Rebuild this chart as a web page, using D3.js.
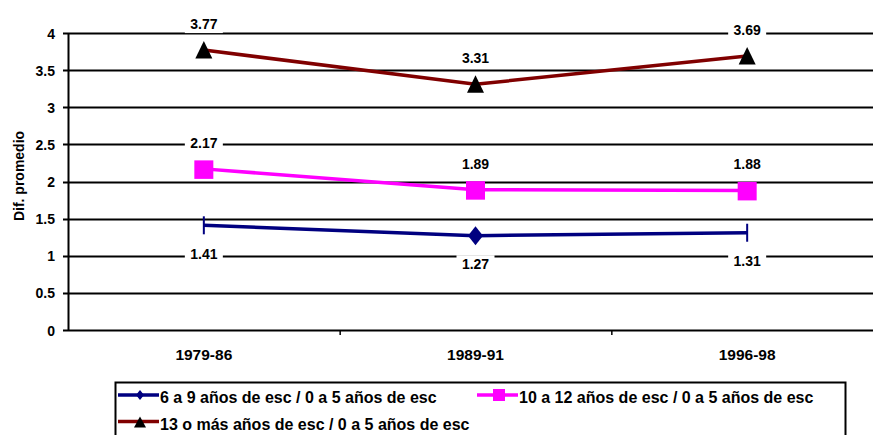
<!DOCTYPE html>
<html>
<head>
<meta charset="utf-8">
<script src="https://cdn.jsdelivr.net/npm/d3@7"></script>
<style>
  html, body { margin: 0; padding: 0; background: #fff; }
  svg { display: block; font-family: "Liberation Sans", Arial, sans-serif; font-weight: bold; }
</style>
</head>
<body>
<svg id="chart" width="873" height="435"></svg>
<script>
// Periods and average differences per schooling group
const periods = ["1979-86", "1989-91", "1996-98"];
const grupo6a9 = [1.41, 1.27, 1.31];
const grupo10a12 = [2.17, 1.89, 1.88];
const grupo13mas = [3.77, 3.31, 3.69];
const yTicks = [0, 0.5, 1, 1.5, 2, 2.5, 3, 3.5, 4];
const seriesNames = [
  "6 a 9 años de esc / 0 a 5 años de esc",
  "10 a 12 años de esc / 0 a 5 años de esc",
  "13 o más años de esc / 0 a 5 años de esc"
];

const series = [
  { name: seriesNames[0], values: grupo6a9, color: "#000080", marker: "diamond", labelPos: "below" },
  { name: seriesNames[1], values: grupo10a12, color: "#FF00FF", marker: "square", labelPos: "above" },
  { name: seriesNames[2], values: grupo13mas, color: "#800000", marker: "triangle", labelPos: "above" }
];

const svg = d3.select("#chart");
const plotLeft = 68, plotTop = 33, plotBottom = 330, plotRight = 883;

const x = d3.scaleBand().domain(periods).range([plotLeft, plotRight]).padding(0);
const y = d3.scaleLinear().domain([0, 4]).range([plotBottom, plotTop]);
const cx = d => x(d) + x.bandwidth() / 2;

// Horizontal gridlines with small outside ticks
svg.append("g").selectAll("line").data(yTicks).join("line")
  .attr("x1", plotLeft - 5).attr("x2", 873)
  .attr("y1", d => Math.round(y(d)) + 0.5).attr("y2", d => Math.round(y(d)) + 0.5)
  .attr("stroke", "#000").attr("stroke-width", 2);

// Value axis line
svg.append("line").attr("x1", plotLeft + 0.5).attr("x2", plotLeft + 0.5)
  .attr("y1", plotTop).attr("y2", plotBottom + 1).attr("stroke", "#000").attr("stroke-width", 2);

// Y tick labels
svg.append("g").selectAll("text").data(yTicks).join("text")
  .attr("x", plotLeft - 13).attr("y", d => y(d) + 5.5)
  .attr("text-anchor", "end").attr("font-size", 14)
  .text(d => d3.format("")(d));

// Category separators on the base line
const seps = periods.slice(1).map(p => x(p));
svg.append("g").selectAll("line").data(seps).join("line")
  .attr("x1", d => d + 0.5).attr("x2", d => d + 0.5)
  .attr("y1", plotBottom).attr("y2", plotBottom + 5)
  .attr("stroke", "#000").attr("stroke-width", 1.5);

// Category labels
svg.append("g").selectAll("text").data(periods).join("text")
  .attr("x", d => cx(d)).attr("y", 360)
  .attr("text-anchor", "middle").attr("font-size", 15.5)
  .text(d => d);

// Axis title
svg.append("text")
  .attr("transform", "translate(24,176) rotate(-90)")
  .attr("text-anchor", "middle").attr("font-size", 14)
  .text("Dif. promedio");

const line = d3.line().x((d, i) => cx(periods[i])).y(d => y(d));

function drawMarker(g, type, color, px, py, endpoint) {
  if (type === "diamond") {
    if (endpoint) {
      g.append("line").attr("x1", px).attr("x2", px).attr("y1", py - 9).attr("y2", py + 9)
        .attr("stroke", color).attr("stroke-width", 2);
    } else {
      g.append("path").attr("d", `M${px},${py - 9.5}L${px + 7.5},${py}L${px},${py + 9.5}L${px - 7.5},${py}Z`)
        .attr("fill", color);
    }
  } else if (type === "square") {
    g.append("rect").attr("x", px - 9.5).attr("y", py - 8.5).attr("width", 19).attr("height", 18.5)
      .attr("fill", color);
  } else if (type === "triangle") {
    g.append("path").attr("d", `M${px},${py - 9}L${px + 8.5},${py + 8.5}L${px - 8.5},${py + 8.5}Z`)
      .attr("fill", "#000");
  }
}

series.forEach(s => {
  const g = svg.append("g");
  g.append("path").datum(s.values).attr("d", line)
    .attr("fill", "none").attr("stroke", s.color).attr("stroke-width", 3.5);
  s.values.forEach((v, i) => {
    const px = cx(periods[i]), py = y(v);
    drawMarker(g, s.marker, s.color, px, py, i !== 1);
    // Label baseline offset from the point
    const base = s.labelPos === "above" ? py - 21 : py + 33.5;
    g.append("rect").attr("x", px - 19).attr("y", base - 14).attr("width", 38).attr("height", 18)
      .attr("fill", "#fff");
    g.append("text").attr("x", px).attr("y", base)
      .attr("text-anchor", "middle").attr("font-size", 14).attr("fill", "#000")
      .text(v.toFixed(2));
  });
});

// Legend
const lg = svg.append("g");
lg.append("rect").attr("x", 115.5).attr("y", 382.5).attr("width", 730).attr("height", 70)
  .attr("fill", "#fff").attr("stroke", "#000").attr("stroke-width", 2);
const legendPos = [[118, 395], [477, 395], [118, 421.5]];
series.forEach((s, i) => {
  const [lx, ly] = legendPos[i];
  lg.append("line").attr("x1", lx).attr("x2", lx + 41).attr("y1", ly).attr("y2", ly)
    .attr("stroke", s.color).attr("stroke-width", 3.5);
  const mx = lx + 22;
  if (s.marker === "diamond") {
    lg.append("path").attr("d", `M${mx},${ly - 5}L${mx + 4},${ly}L${mx},${ly + 5}L${mx - 4},${ly}Z`).attr("fill", s.color);
  } else if (s.marker === "square") {
    lg.append("rect").attr("x", mx - 6).attr("y", ly - 6).attr("width", 12).attr("height", 12).attr("fill", s.color);
  } else {
    lg.append("path").attr("d", `M${mx},${ly - 5}L${mx + 6},${ly + 6}L${mx - 6},${ly + 6}Z`).attr("fill", "#000");
  }
  lg.append("text").attr("x", lx + 42).attr("y", ly + 8).attr("font-size", 16).text(s.name);
});
</script>
</body>
</html>
